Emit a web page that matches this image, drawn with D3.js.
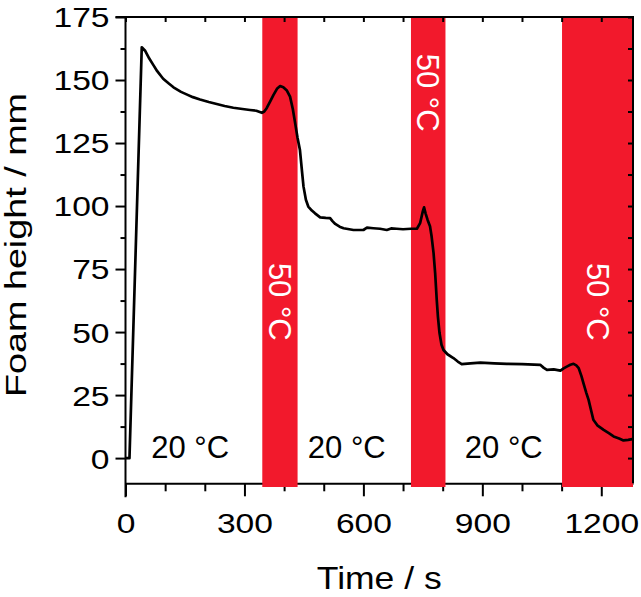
<!DOCTYPE html>
<html>
<head>
<meta charset="utf-8">
<script src="https://cdn.jsdelivr.net/npm/d3@7/dist/d3.min.js"></script>
<style>
  html, body { margin: 0; padding: 0; background: #fff; }
  svg { display: block; }
  text { font-family: "Liberation Sans", Arial, Helvetica, sans-serif; fill: #000; }
</style>
</head>
<body>
<svg id="chart" width="641" height="597"></svg>
<script>
// ---- data ----
const timeS = [0, 10, 41, 50, 60, 70, 80, 95, 110, 121, 140, 154, 170, 188, 210, 230, 250, 272, 295, 314, 330, 344,
  350, 356, 365, 373, 382, 390, 398, 407, 415, 422, 428, 434, 440, 445, 449, 455, 461, 470, 478, 491, 505, 516, 522, 529, 540, 550, 575,
  600, 609, 625, 642, 659, 670, 684, 700, 720, 735,
  743, 750, 753, 757, 762, 768, 772, 777, 781, 785, 788, 792, 797, 802, 812, 827, 838, 848,
  870, 895, 930, 962, 1000, 1046, 1055, 1063, 1080, 1097, 1105, 1113, 1122, 1130, 1137, 1143,
  1150, 1155, 1162, 1168, 1175, 1180, 1190, 1206, 1220, 1231, 1245, 1256, 1268, 1278];
const foamHeight = [0, 0, 163, 161.5, 158.5, 156, 153.5, 150.5, 148.5, 147.1, 145.3, 144.3, 143.2, 142.3, 141.3, 140.5, 139.7, 139, 138.5, 138.1, 137.8, 137,
  137.5, 138.8, 141.5, 144, 146.5, 147.6, 147.1, 145.8, 143.4, 138.5, 132.8, 127, 122.2, 114, 107.7, 102.5, 99.8, 98.2, 97.1, 95.5, 95.3, 95.2, 94, 92.9, 91.8, 91.2, 90.5,
  90.5, 91.4, 91.2, 91, 90.5, 91.1, 91, 90.8, 91, 91,
  93.2, 98, 99.5, 97, 94.5, 92, 88, 81.3, 73.4, 62.8, 56, 49.6, 45, 42.9, 41.2, 39.7, 38.3, 37.3,
  37.6, 37.9, 37.6, 37.4, 37.3, 37, 35.8, 35, 35.2, 34.7, 35.6, 36.3, 37, 37.4, 36.8, 35.7,
  32.5, 29.7, 26, 23.1, 18.5, 15.2, 13, 11.2, 9.8, 8.6, 7.8, 7, 7.2, 7.5];

const hotStart = [345, 720, 1101];
const hotEnd = [434, 807, 1280];
const hotLabel = ["50 °C", "50 °C", "50 °C"];
const hotLabelY = [62, 145, 62];

const coldLabel = ["20 °C", "20 °C", "20 °C"];
const coldLabelX = [163, 558, 954];

const xMajorTicks = [0, 300, 600, 900, 1200];
const xMinorTicks = [100, 200, 400, 500, 700, 800, 1000, 1100];
const xAllTicks = [0, 100, 200, 300, 400, 500, 600, 700, 800, 900, 1000, 1100, 1200];
const yMajorTicks = [0, 25, 50, 75, 100, 125, 150, 175];
const yMinorTicks = [12.5, 37.5, 62.5, 87.5, 112.5, 137.5, 162.5];
const yAllTicks = [0, 12.5, 25, 37.5, 50, 62.5, 75, 87.5, 100, 112.5, 125, 137.5, 150, 162.5, 175];

const xTitle = "Time / s";
const yTitle = "Foam height / mm";

// ---- layout ----
const L = 125.5, R = 633, T = 17, B = 483.3;
const RED = "#f2192c";

const svg = d3.select("#chart");
const x = d3.scaleLinear().domain([0, 1280]).range([L, R]);
const y = d3.scaleLinear().domain([-10, 175]).range([B, T]);

function styleAxis(g) {
  g.selectAll(".domain").attr("stroke", "#000").attr("stroke-width", 2);
  g.selectAll(".tick line").attr("stroke", "#000").attr("stroke-width", 2);
}

// bottom axis (drawn first; bands cover its line)
const gB = svg.append("g").attr("transform", `translate(0,${B})`)
  .call(d3.axisBottom(x).tickValues(xMajorTicks).tickSize(13).tickSizeOuter(0).tickPadding(18).tickFormat(d3.format("d")));
styleAxis(gB);
gB.selectAll(".tick text").attr("font-size", 28).attr("dy", null).attr("y", 50)
  .attr("transform", "scale(1.2,1)");
const gBm = svg.append("g").attr("transform", `translate(0,${B})`)
  .call(d3.axisBottom(x).tickValues(xMinorTicks).tickSize(8).tickSizeOuter(0).tickFormat(""));
styleAxis(gBm);
gBm.select(".domain").remove();

// bands
svg.append("g").selectAll("rect").data(hotStart).join("rect")
  .attr("x", (d) => x(d))
  .attr("width", (d, i) => x(hotEnd[i]) - x(d))
  .attr("y", T + 1)
  .attr("height", 487 - (T + 1))
  .attr("fill", RED);

// left axis
const gL = svg.append("g").attr("transform", `translate(${L},0)`)
  .call(d3.axisLeft(y).tickValues(yMajorTicks).tickSize(10).tickSizeOuter(0).tickPadding(6).tickFormat(d3.format("d")));
styleAxis(gL);
gL.select(".domain").attr("d", `M0,${T}V${B + 14}`);
gL.selectAll(".tick text").attr("font-size", 28).attr("x", null).attr("dy", "0.355em")
  .attr("transform", "translate(-16,0) scale(1.2,1)");
const gLm = svg.append("g").attr("transform", `translate(${L},0)`)
  .call(d3.axisLeft(y).tickValues(yMinorTicks).tickSize(5).tickSizeOuter(0).tickFormat(""));
styleAxis(gLm);
gLm.select(".domain").remove();

// top axis (mirror, inward ticks)
const gT = svg.append("g").attr("transform", `translate(0,${T})`)
  .call(d3.axisTop(x).tickValues(xAllTicks).tickSize(-5).tickSizeOuter(0).tickFormat(""));
styleAxis(gT);
gT.select(".domain").attr("d", `M${L - 10},0H${R + 1}`);

// right axis (mirror, inward ticks)
const gR = svg.append("g").attr("transform", `translate(${R},0)`)
  .call(d3.axisRight(y).tickValues(yAllTicks).tickSize(-5).tickSizeOuter(0).tickFormat(""));
styleAxis(gR);
gR.select(".domain").attr("d", `M0,${T}V${B}`);

// curve
const line = d3.line().x((d, i) => x(timeS[i])).y((d) => y(d));
svg.append("path").datum(foamHeight)
  .attr("d", line)
  .attr("fill", "none")
  .attr("stroke", "#000")
  .attr("stroke-width", 2.7)
  .attr("stroke-linejoin", "round");

// 20 °C labels
svg.append("g").selectAll("text").data(coldLabel).join("text")
  .attr("x", (d, i) => x(coldLabelX[i]))
  .attr("y", y(0))
  .attr("text-anchor", "middle")
  .attr("font-size", 31)
  .text((d) => d);

// 50 °C labels (rotated)
svg.append("g").selectAll("text").data(hotLabel).join("text")
  .attr("transform", (d, i) => `translate(${(x(hotStart[i]) + x(hotEnd[i])) / 2 - 11},${y(hotLabelY[i])}) rotate(90)`)
  .attr("text-anchor", "middle")
  .attr("font-size", 31)
  .style("fill", "#fff")
  .text((d) => d);

// axis titles
svg.append("text")
  .attr("x", (L + R) / 2)
  .attr("y", 589)
  .attr("text-anchor", "middle")
  .attr("font-size", 32)
  .attr("textLength", 125)
  .attr("lengthAdjust", "spacingAndGlyphs")
  .text(xTitle);

svg.append("text")
  .attr("transform", `translate(26,245) rotate(-90)`)
  .attr("text-anchor", "middle")
  .attr("font-size", 30)
  .attr("textLength", 304)
  .attr("lengthAdjust", "spacingAndGlyphs")
  .text(yTitle);
</script>
</body>
</html>
